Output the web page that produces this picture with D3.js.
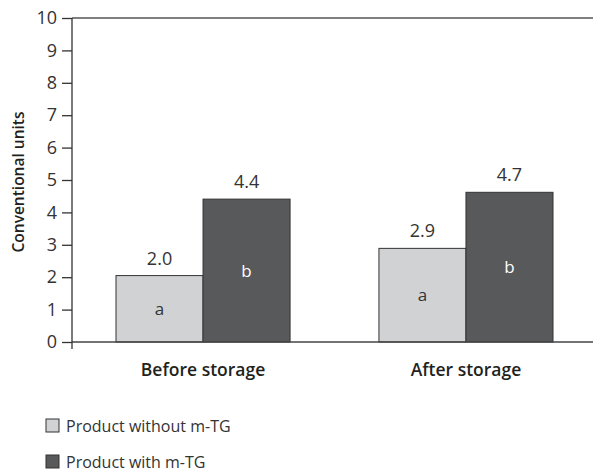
<!DOCTYPE html>
<html><head><meta charset="utf-8">
<script src="https://cdn.jsdelivr.net/npm/d3@7/dist/d3.min.js"></script>
<style>body{margin:0;background:#fff}svg{display:block}text{font-family:"Open Sans","Noto Sans",sans-serif;fill:#231f20}</style>
</head><body><svg id="c" width="593" height="473"></svg>
<script>
const categories = ["Before storage", "After storage"];
const series = ["Product without m-TG", "Product with m-TG"];
const valuesWithout = [2.05, 2.89];
const valuesWith = [4.41, 4.62];
const labelsWithout = ["2.0", "2.9"];
const labelsWith = ["4.4", "4.7"];
const lettersWithout = ["a", "a"];
const lettersWith = ["b", "b"];
const yTicks = [0,1,2,3,4,5,6,7,8,9,10];
const colors = ["#d1d2d4", "#58595b"];

const svg = d3.select("#c");
const x0 = 72, x1 = 593, yTop = 18, yBot = 342;
const y = d3.scaleLinear().domain([0,10]).range([yBot, yTop]);
const xc = d3.scaleBand().domain(categories).range([116, 553]).paddingInner(0.338).paddingOuter(0);
const xs = d3.scaleBand().domain(series).range([0, xc.bandwidth()]);

// top border line
svg.append("line").attr("x1", x0).attr("x2", x1).attr("y1", yTop).attr("y2", yTop)
  .attr("stroke", "#555").attr("stroke-width", 1.5);

const data = [];
categories.forEach((c, i) => {
  data.push({c, s: series[0], v: valuesWithout[i], lab: labelsWithout[i], let: lettersWithout[i], col: colors[0], lc: "#231f20"});
  data.push({c, s: series[1], v: valuesWith[i], lab: labelsWith[i], let: lettersWith[i], col: colors[1], lc: "#ffffff"});
});

svg.selectAll("rect.bar").data(data).join("rect").attr("class","bar")
  .attr("x", d => xc(d.c) + xs(d.s))
  .attr("y", d => y(d.v))
  .attr("width", xs.bandwidth())
  .attr("height", d => yBot - y(d.v))
  .attr("fill", d => d.col).attr("stroke", "#333").attr("stroke-width", 1);

svg.selectAll("text.val").data(data).join("text").attr("class","val")
  .attr("x", d => xc(d.c) + xs(d.s) + xs.bandwidth()/2)
  .attr("y", d => y(d.v) - 11)
  .attr("text-anchor","middle").attr("font-size", 18).attr("font-weight", 400).style("fill","#333").text(d => d.lab);

svg.selectAll("text.let").data(data).join("text").attr("class","let")
  .attr("x", d => xc(d.c) + xs(d.s) + xs.bandwidth()/2)
  .attr("y", d => (y(d.v) + yBot)/2 + 6)
  .attr("text-anchor","middle").attr("font-size", 17).attr("font-weight", 400)
  .style("fill", d => d.lc === "#ffffff" ? "#ffffff" : "#333").text(d => d.let);

// x axis
svg.append("line").attr("x1", x0).attr("x2", x1).attr("y1", yBot).attr("y2", yBot)
  .attr("stroke", "#444").attr("stroke-width", 1.5);

// y axis
const ya = svg.append("g").attr("transform", `translate(${x0},0)`)
  .call(d3.axisLeft(y).tickValues(yTicks).tickSize(10).tickPadding(5).tickFormat(d3.format("d")));
ya.select(".domain").remove();
ya.append("line").attr("x1",0).attr("x2",0).attr("y1",yTop).attr("y2",yBot+7).attr("stroke","#333").attr("stroke-width",1.3);
ya.selectAll(".tick line").attr("stroke","#333").attr("stroke-width",1.3);
ya.selectAll(".tick text").attr("font-size", 18).attr("font-weight", 400)
  .style("font-family",'"Open Sans","Noto Sans",sans-serif').style("fill","#333");

svg.selectAll("text.cat").data(categories).join("text").attr("class","cat")
  .attr("x", d => xc(d) + xc.bandwidth()/2).attr("y", 376)
  .attr("text-anchor","middle").attr("font-size", 17.5).attr("font-weight", 600).text(d => d);

svg.append("text").attr("transform", "translate(24,182) rotate(-90)")
  .attr("text-anchor","middle").attr("font-size", 15.5).attr("font-weight", 600).text("Conventional units");

// legend
const lg = svg.selectAll("g.lg").data(series).join("g").attr("class","lg")
  .attr("transform", (d,i) => `translate(46,${419 + i*36})`);
lg.append("rect").attr("width", 13).attr("height", 13)
  .attr("fill", (d,i) => colors[i]).attr("stroke","#333").attr("stroke-width",1);
lg.append("text").attr("x", 20).attr("y", 12.5).attr("font-size", 16).attr("font-weight", 400).style("fill","#333").text(d => d);
</script></body></html>
